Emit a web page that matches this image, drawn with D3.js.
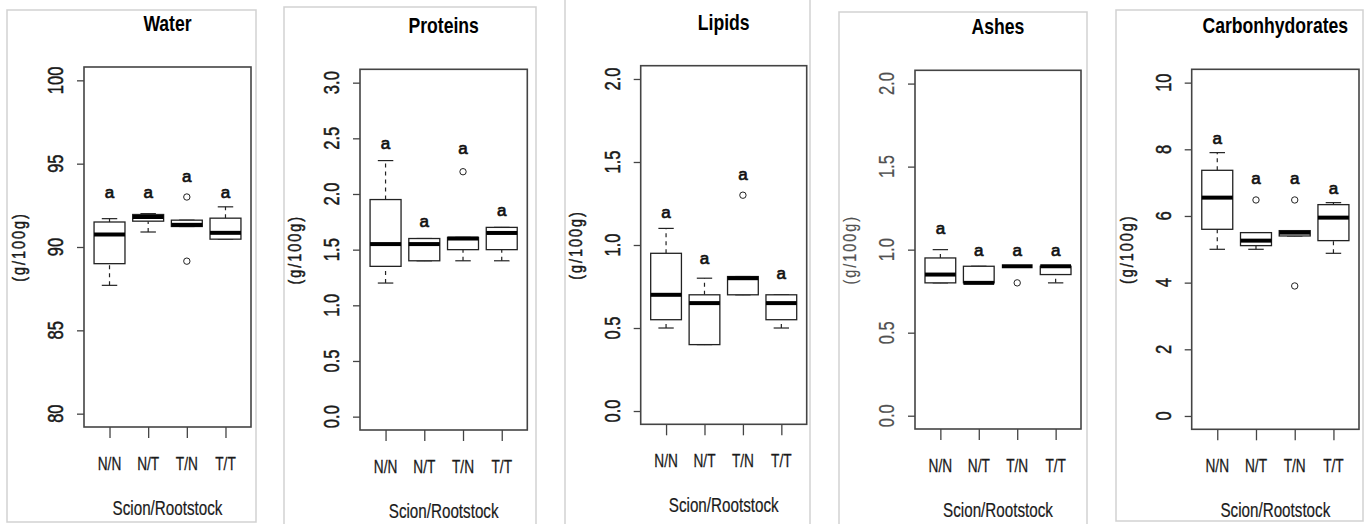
<!DOCTYPE html>
<html>
<head>
<meta charset="utf-8">
<script src="https://cdn.jsdelivr.net/npm/d3@7"></script>
<style>
  html, body { margin: 0; padding: 0; background: #fff; }
  svg { display: block; font-family: "Liberation Sans", Arial, sans-serif; }
</style>
</head>
<body>
<svg id="chart" width="1372" height="524"></svg>
<script>
// ---------------- DATA ----------------
const categories = ["N/N", "N/T", "T/N", "T/T"];
const panelTitles = ["Water", "Proteins", "Lipids", "Ashes", "Carbonhydorates"];
const yAxisTitle = "(g/100g)";
const xAxisTitle = "Scion/Rootstock";

// y ranges (ylim) and tick values
const waterTicks = [80, 85, 90, 95, 100];
const proteinTicks = [0, 0.5, 1, 1.5, 2, 2.5, 3];
const lipidTicks = [0, 0.5, 1, 1.5, 2];
const ashTicks = [0, 0.5, 1, 1.5, 2];
const carbTicks = [0, 2, 4, 6, 8, 10];

// box stats per category: [lower whisker, Q1, median, Q3, upper whisker]
const waterStats = [[87.7, 89.0, 90.75, 91.5, 91.7], [90.9, 91.55, 91.8, 91.95, 92.0], [91.23, 91.23, 91.33, 91.61, 91.61], [90.47, 90.47, 90.85, 91.73, 92.41]];
const proteinStats = [[1.2, 1.35, 1.55, 1.95, 2.3], [1.4, 1.4, 1.55, 1.6, 1.6], [1.4, 1.5, 1.6, 1.61, 1.61], [1.4, 1.5, 1.65, 1.7, 1.7]];
const lipidStats = [[0.5, 0.55, 0.7, 0.95, 1.1], [0.4, 0.4, 0.65, 0.7, 0.8], [0.7, 0.7, 0.8, 0.81, 0.81], [0.5, 0.55, 0.65, 0.7, 0.7]];
const ashStats = [[0.8, 0.8, 0.85, 0.95, 1.0], [0.8, 0.8, 0.8, 0.9, 0.9], [0.9, 0.9, 0.9, 0.9, 0.9], [0.8, 0.85, 0.9, 0.9, 0.9]];
const carbStats = [[5.0, 5.6, 6.55, 7.37, 7.9], [5.0, 5.11, 5.26, 5.5, 5.5], [5.4, 5.4, 5.5, 5.56, 5.56], [4.88, 5.26, 5.95, 6.34, 6.4]];

// outliers per category
const waterOutliers = [[], [], [93.0, 89.15], []];
const proteinOutliers = [[], [], [2.2], []];
const lipidOutliers = [[], [], [1.3], []];
const ashOutliers = [[], [], [0.8], []];
const carbOutliers = [[], [6.48], [6.48, 3.9], []];

// significance letters and their heights
const waterLetters = ["a", "a", "a", "a"];
const waterLetterY = [93.3, 93.3, 94.25, 93.3];
const proteinLetters = ["a", "a", "a", "a"];
const proteinLetterY = [2.46, 1.76, 2.41, 1.86];
const lipidLetters = ["a", "a", "a", "a"];
const lipidLetterY = [1.2, 0.92, 1.43, 0.83];
const ashLetters = ["a", "a", "a", "a"];
const ashLetterY = [1.13, 1.0, 1.0, 1.0];
const carbLetters = ["a", "a", "a", "a"];
const carbLetterY = [8.33, 7.13, 7.13, 6.83];

// ---------------- LAYOUT ----------------
const panels = [
  { title: panelTitles[0], ticks: waterTicks, fmt: d3.format("d"), stats: waterStats, out: waterOutliers, letters: waterLetters, letterY: waterLetterY,
    frame: { l: 84, r: 251, t: 67, b: 427 }, border: { l: 7, t: 10, r: 256, b: 522 }, dark: true },
  { title: panelTitles[1], ticks: proteinTicks, fmt: d3.format(".1f"), stats: proteinStats, out: proteinOutliers, letters: proteinLetters, letterY: proteinLetterY,
    frame: { l: 360, r: 527.3, t: 69.3, b: 430 }, border: { l: 284, t: 7, r: 536, b: 540 }, dark: true },
  { title: panelTitles[2], ticks: lipidTicks, fmt: d3.format(".1f"), stats: lipidStats, out: lipidOutliers, letters: lipidLetters, letterY: lipidLetterY,
    frame: { l: 640.7, r: 806.7, t: 65.7, b: 424.3 }, border: { l: 565, t: -5, r: 810, b: 540 }, dark: true },
  { title: panelTitles[3], ticks: ashTicks, fmt: d3.format(".1f"), stats: ashStats, out: ashOutliers, letters: ashLetters, letterY: ashLetterY,
    frame: { l: 915, r: 1081, t: 70.3, b: 429 }, border: { l: 839, t: 12, r: 1087, b: 540 }, dark: false },
  { title: panelTitles[4], ticks: carbTicks, fmt: d3.format("d"), stats: carbStats, out: carbOutliers, letters: carbLetters, letterY: carbLetterY,
    frame: { l: 1191.7, r: 1359, t: 69.3, b: 429.3 }, border: { l: 1116, t: 10, r: 1363, b: 521 }, dark: true }
];

const svg = d3.select("#chart");

function condensedText(g, x, y, str, opts) {
  const rot = opts.rotate ? " rotate(-90)" : "";
  const t = g.append("g")
    .attr("transform", `translate(${x},${y})${rot} scale(${opts.c || 1},1)`)
    .append("text")
    .attr("x", 0).attr("y", 0)
    .attr("text-anchor", "middle")
    .attr("font-size", opts.size)
    .attr("font-weight", opts.bold ? "bold" : "normal")
    .attr("fill", opts.fill || "#111")
    .text(str);
  if (opts.ls) t.attr("letter-spacing", opts.ls);
  if (opts.sw) t.attr("stroke", opts.fill || "#111").attr("stroke-width", opts.sw);
  return t;
}

panels.forEach(p => {
  const g = svg.append("g");
  const f = p.frame;

  // outer panel border (light grey)
  g.append("rect")
    .attr("x", p.border.l).attr("y", p.border.t)
    .attr("width", p.border.r - p.border.l).attr("height", p.border.b - p.border.t)
    .attr("fill", "none").attr("stroke", "#d2d2d2").attr("stroke-width", 1.5);

  const lo = d3.min(p.ticks), hi = d3.max(p.ticks);
  const ext = (hi - lo) * 0.04;
  const y = d3.scaleLinear().domain([lo - ext, hi + ext]).range([f.b, f.t]);
  const x = d3.scaleLinear().domain([0.34, 4.66]).range([f.l, f.r]);
  const xi = i => x(i + 1);
  const halfW = (x(1.4) - x(1));
  const capW = halfW / 2;

  const axisCol = "#444";
  const textCol = p.dark ? "#1a1a1a" : "#505050";

  // y axis ticks
  const yAxis = d3.axisLeft(y).tickValues(p.ticks).tickSize(7).tickFormat("");
  const ya = g.append("g").attr("transform", `translate(${f.l},0)`).call(yAxis);
  ya.select(".domain").remove();
  ya.selectAll(".tick line").attr("stroke", axisCol).attr("stroke-width", 1.3);
  p.ticks.forEach(v => {
    condensedText(g, f.l - 21, y(v), p.fmt(v), { rotate: true, size: 21.5, c: 0.77, fill: textCol, sw: p.dark ? 0.5 : 0.2 });
  });

  // x axis ticks
  const xAxis = d3.axisBottom(x).tickValues([1, 2, 3, 4]).tickSize(11).tickFormat("");
  const xa = g.append("g").attr("transform", `translate(0,${f.b})`).call(xAxis);
  xa.select(".domain").remove();
  xa.selectAll(".tick line").attr("stroke", axisCol).attr("stroke-width", 1.3);
  categories.forEach((c, i) => {
    condensedText(g, xi(i), f.b + 43, c, { size: 19, c: 0.72, fill: "#1a1a1a", sw: 0.3 });
  });

  // frame
  g.append("rect")
    .attr("x", f.l).attr("y", f.t).attr("width", f.r - f.l).attr("height", f.b - f.t)
    .attr("fill", "none").attr("stroke", axisCol).attr("stroke-width", 1.6);

  // boxes
  p.stats.forEach((s, i) => {
    const cx = xi(i);
    const bg = g.append("g");
    // whiskers (dashed)
    bg.append("line").attr("x1", cx).attr("x2", cx).attr("y1", y(s[0])).attr("y2", y(s[1]))
      .attr("stroke", "#222").attr("stroke-width", 1.2).attr("stroke-dasharray", "4,4");
    bg.append("line").attr("x1", cx).attr("x2", cx).attr("y1", y(s[3])).attr("y2", y(s[4]))
      .attr("stroke", "#222").attr("stroke-width", 1.2).attr("stroke-dasharray", "4,4");
    // caps
    [s[0], s[4]].forEach(v => {
      bg.append("line").attr("x1", cx - capW).attr("x2", cx + capW).attr("y1", y(v)).attr("y2", y(v))
        .attr("stroke", "#222").attr("stroke-width", 1.2);
    });
    // box
    bg.append("rect").attr("x", cx - halfW).attr("y", y(s[3]))
      .attr("width", 2 * halfW).attr("height", Math.max(0, y(s[1]) - y(s[3])))
      .attr("fill", "white").attr("stroke", "#222").attr("stroke-width", 1.3);
    // median
    bg.append("line").attr("x1", cx - halfW).attr("x2", cx + halfW).attr("y1", y(s[2])).attr("y2", y(s[2]))
      .attr("stroke", "#000").attr("stroke-width", 4);
    // outliers
    p.out[i].forEach(v => {
      bg.append("circle").attr("cx", cx).attr("cy", y(v)).attr("r", 3.2)
        .attr("fill", "none").attr("stroke", "#222").attr("stroke-width", 1);
    });
    // letter
    g.append("text").attr("x", cx).attr("y", y(p.letterY[i])).attr("dy", "0.36em")
      .attr("text-anchor", "middle").attr("font-size", 17).attr("font-weight", "normal")
      .attr("fill", "#111").attr("stroke", "#111").attr("stroke-width", 0.7).text(p.letters[i]);
  });

  const cxm = (f.l + f.r) / 2;
  // title
  condensedText(g, cxm, f.t - 36, p.title, { size: 22, c: 0.8, bold: true, fill: "#000" });
  // y title
  condensedText(g, f.l - 59, (f.t + f.b) / 2, yAxisTitle, { rotate: true, size: 18, c: 0.8, ls: 2.5, fill: textCol, sw: p.dark ? 0.5 : 0.2 });
  // x title
  condensedText(g, cxm, f.b + 88, xAxisTitle, { size: 19.5, c: 0.78, fill: "#1a1a1a", sw: 0.2 });
});
</script>
</body>
</html>
